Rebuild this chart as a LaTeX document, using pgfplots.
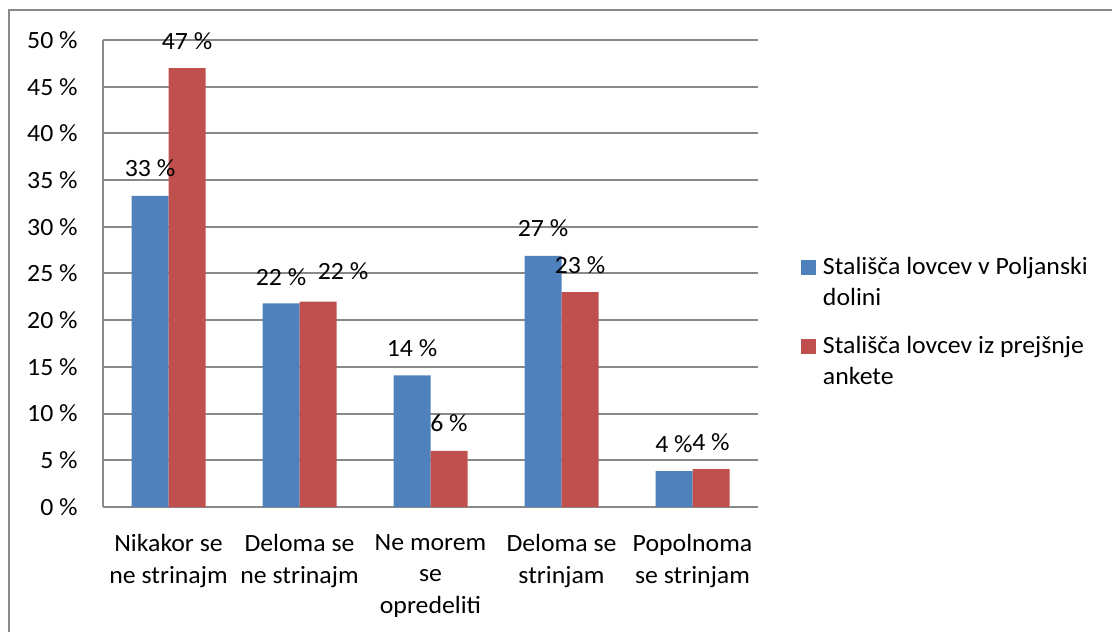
\documentclass[border=0pt]{standalone}
\usepackage{fontspec}
\setmainfont{Carlito}[FakeStretch=1.04]
\usepackage{pgfplots}
\usepackage{pgfplotstable}
\pgfplotsset{compat=1.18}
\definecolor{cblue}{HTML}{4F81BD}
\definecolor{cred}{HTML}{C0504D}
\definecolor{cgrid}{HTML}{898989}
\newcommand{\cf}{\fontsize{12.4}{15.8}\selectfont}
\pgfplotstableread{
cat val sx sy
0 33.3 0 9.5
1 21.8 0 9
2 14.1 0 9.5
3 26.9 0 9.5
4 3.85 0 9.5
}\blueData
\pgfplotstableread{
cat val sx sy
0 47.0 0 9.5
1 22.0 12.5 11
2 6.0 0 9.5
3 23.0 0 9.5
4 4.05 0 9.5
}\redData
\begin{document}
\begin{tikzpicture}
\cf
\useasboundingbox (0pt,0pt) rectangle (556pt,315.5pt);
\draw[cgrid, line width=1pt] (4.5pt,-20pt) rectangle (580pt,310.25pt);
\begin{axis}[
  at={(51.5pt,62pt)}, anchor=south west,
  width=327.5pt, height=233.5pt, scale only axis,
  ybar=0pt, bar width=18.5pt,
  xmin=-0.5, xmax=4.5, ymin=0, ymax=50,
  xtick={0,1,2,3,4},
  xticklabels={{Nikakor se\\ne strinajm},{Deloma se\\ne strinajm},{Ne morem\\se\\opredeliti},{Deloma se\\strinjam},{Popolnoma\\se strinjam}},
  ytick={0,5,...,50},
  yticklabel={\pgfmathprintnumber{\tick}~\%},
  /pgf/number format/assume math mode=true,
  axis lines*=left,
  axis line style={cgrid, line width=1pt, -},
  ymajorgrids, grid style={cgrid, line width=1pt},
  major tick length=0pt,
  xticklabel style={align=center, anchor=north, inner sep=0pt, yshift=-13.5pt, font=\cf},
  yticklabel style={anchor=east, inner sep=0pt, xshift=-12.5pt, font=\cf},
  nodes near coords={\pgfmathprintnumber[fixed,precision=0]{\pgfplotspointmeta}~\%},
  legend image code/.code={\fill[#1] (0pt,15.3pt) rectangle (7.5pt,22.8pt);},
  legend style={at={(1.0656,0.535)}, anchor=north west, draw=none, fill=none,
    inner sep=0pt, outer sep=0pt, row sep=15pt, column sep=3.5pt, font=\cf,
    nodes={inner sep=0pt, text depth=}, cells={align=left, anchor=base west}},
]
\addplot[fill=cblue, draw=none,
  visualization depends on={\thisrow{sx} \as \myshx},
  visualization depends on={\thisrow{sy} \as \myshy},
  every node near coord/.append style={anchor=base, inner sep=0pt, xshift=\myshx, yshift=\myshy, font=\cf, black}]
  table[x=cat, y=val] {\blueData};
\addplot[fill=cred, draw=none,
  visualization depends on={\thisrow{sx} \as \myshx},
  visualization depends on={\thisrow{sy} \as \myshy},
  every node near coord/.append style={anchor=base, inner sep=0pt, xshift=\myshx, yshift=\myshy, font=\cf, black}]
  table[x=cat, y=val] {\redData};
\legend{{Stališča lovcev v Poljanski\\dolini},{Stališča lovcev iz prejšnje\\ankete}}
\end{axis}
\end{tikzpicture}
\end{document}
